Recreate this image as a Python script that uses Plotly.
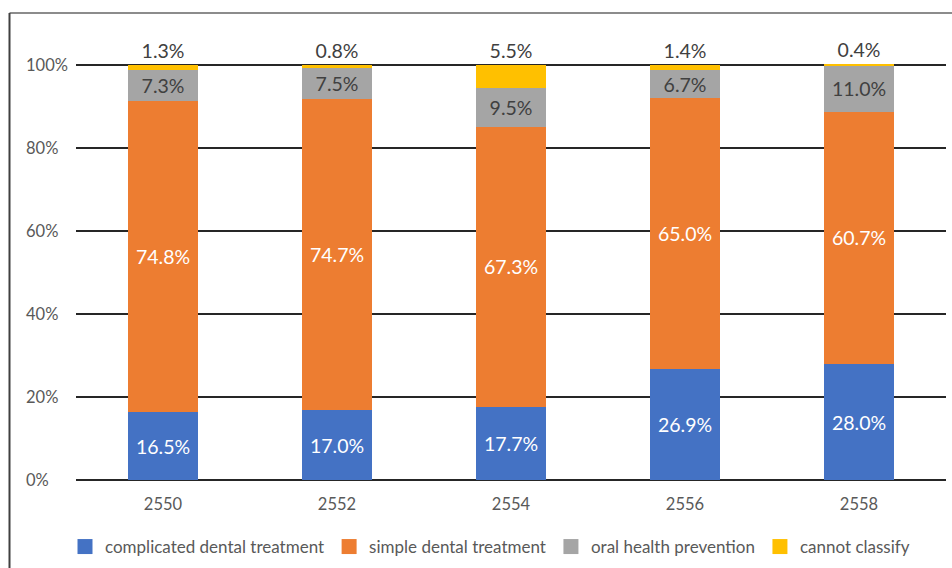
import plotly.graph_objects as go

years = ["2550", "2552", "2554", "2556", "2558"]
complicated = [16.5, 17.0, 17.7, 26.9, 28.0]
simple = [74.8, 74.7, 67.3, 65.0, 60.7]
prevention = [7.3, 7.5, 9.5, 6.7, 11.0]
unclassified = [1.3, 0.8, 5.5, 1.4, 0.4]
series_names = ["complicated dental treatment", "simple dental treatment",
                "oral health prevention", "cannot classify"]
colors = ["#4472C4", "#ED7D31", "#A5A5A5", "#FFC000"]
label_colors = ["white", "white", "#404040", "#404040"]
y_ticks = [0, 20, 40, 60, 80, 100]

FONT = "Lato"
fig = go.Figure()
for name, vals, col, lc in zip(series_names, [complicated, simple, prevention, unclassified], colors, label_colors):
    is_top = name == "cannot classify"
    fig.add_trace(go.Bar(
        x=years, y=vals, name=name, marker=dict(color=col, line=dict(width=0)),
        text=[f"{v:.1f}%" for v in vals],
        textposition="outside" if is_top else "inside",
        insidetextanchor="middle",
        constraintext="none",
        cliponaxis=False,
        textfont=dict(family=FONT, size=19.5, color=lc),
        outsidetextfont=dict(family=FONT, size=19.5, color=lc),
        hoverinfo="skip", showlegend=False,
    ))
for name, col in zip(series_names, colors):
    fig.add_trace(go.Scatter(x=[None], y=[None], mode="markers", name=name,
                             marker=dict(symbol="square", size=15, color=col)))

pad = 0.4
L, R, T, B = 76, 6, 65, 88
W, H = 952, 568
ppu = (H - T - B) / 100.0
T2, B2 = T - pad * ppu, B - pad * ppu
pw, ph = W - L - R, H - T2 - B2

def px_x(p):
    return (p - L) / pw

def px_y(p):
    return (H - B2 - p) / ph

annotations = [dict(x=px_x(24), y=v, xref="paper", yref="y", text=f"{v}%", showarrow=False,
                    xanchor="left", yanchor="middle", font=dict(family=FONT, size=16.5, color="#595959"))
               for v in y_ticks]

fig.update_layout(
    width=W, height=H, barmode="stack", bargap=0.598,
    margin=dict(l=L, r=R, t=T2, b=B2, autoexpand=False),
    paper_bgcolor="white", plot_bgcolor="white",
    font=dict(family=FONT, color="#595959"),
    xaxis=dict(type="category", showgrid=False, showline=False, ticks="", ticklabelstandoff=10,
               automargin=False, tickfont=dict(family=FONT, size=16.5, color="#595959")),
    yaxis=dict(range=[-pad, 100 + pad], tickvals=y_ticks, showticklabels=False, showgrid=True,
               automargin=False, gridcolor="#262626", gridwidth=2, zeroline=False, showline=False),
    legend=dict(orientation="h", xref="container", yref="container", x=65 / W, xanchor="left",
                y=(H - 547) / H, yanchor="middle",
                font=dict(family=FONT, size=17, color="#595959"), itemwidth=30,
                traceorder="normal"),
    annotations=annotations,
    shapes=[
        dict(type="line", xref="paper", yref="paper", x0=px_x(9.5), x1=1.1, y0=px_y(13.5), y1=px_y(13.5),
             line=dict(color="#8c8c8c", width=2)),
        dict(type="line", xref="paper", yref="paper", x0=px_x(9.5), x1=px_x(9.5), y0=px_y(13.5), y1=px_y(570),
             line=dict(color="#404040", width=2)),
    ],
)
fig.write_html("out.html")
